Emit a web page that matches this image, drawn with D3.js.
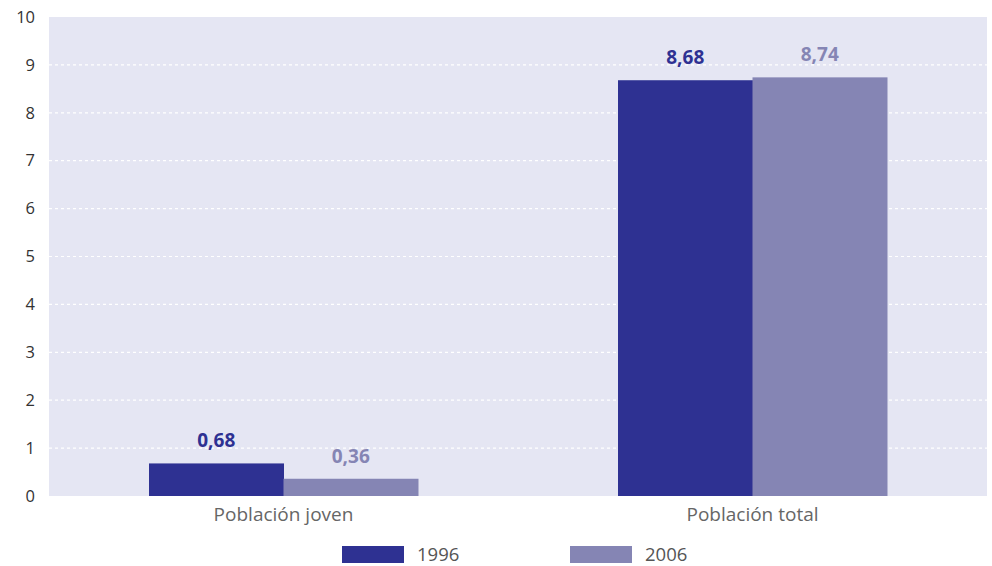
<!DOCTYPE html>
<html><head><meta charset="utf-8">
<script src="https://cdn.jsdelivr.net/npm/d3@7"></script>
<style>body{margin:0;background:#fff;} svg{display:block;font-family:"Open Sans","Noto Sans",sans-serif;}</style>
</head><body>
<svg id="c" width="992" height="566"></svg>
<script>
const categories = ["Población joven", "Población total"];
const seriesNames = ["1996", "2006"];
const values1996 = [0.68, 8.68];
const values2006 = [0.36, 8.74];
const valueLabels1996 = ["0,68", "8,68"];
const valueLabels2006 = ["0,36", "8,74"];
const yTicks = [0,1,2,3,4,5,6,7,8,9,10];
const colors = ["#2e3192", "#8585b4"];

const svg = d3.select("#c");
const L = 49, R = 987, T = 17, B = 496;
const y = d3.scaleLinear().domain([0,10]).range([B,T]);
const x0 = d3.scaleBand().domain(categories).range([L,R]).padding(0);
const x1 = d3.scaleBand().domain(seriesNames).range([0,x0.bandwidth()]).paddingInner(0).paddingOuter(0.7435);

svg.append("rect").attr("x",L).attr("y",T).attr("width",R-L).attr("height",B-T).attr("fill","#e5e6f3");

svg.append("g").selectAll("line").data(yTicks.filter(d=>d>0 && d<10)).join("line")
  .attr("x1",L).attr("x2",R).attr("y1",d=>y(d)).attr("y2",d=>y(d))
  .attr("stroke","#ffffff").attr("stroke-width",1.2).attr("stroke-dasharray","3,3");

const yAxis = svg.append("g").attr("transform",`translate(${L},0)`)
  .call(d3.axisLeft(y).tickValues(yTicks).tickSize(0).tickPadding(14));
yAxis.select(".domain").remove();
yAxis.selectAll("text").attr("font-size",16.5).attr("fill","#333").attr("font-family","'Open Sans',sans-serif");

const data = categories.map((c,i)=>({cat:c, vals:[
  {s:seriesNames[0], v:values1996[i], lab:valueLabels1996[i], col:colors[0]},
  {s:seriesNames[1], v:values2006[i], lab:valueLabels2006[i], col:colors[1]}]}));

const g = svg.append("g").selectAll("g").data(data).join("g")
  .attr("transform",d=>`translate(${x0(d.cat)},0)`);
g.selectAll("rect").data(d=>d.vals).join("rect")
  .attr("x",d=>x1(d.s)).attr("width",x1.bandwidth()+0.5)
  .attr("y",d=>y(d.v)).attr("height",d=>B-y(d.v)).attr("fill",d=>d.col);
g.selectAll("text").data(d=>d.vals).join("text")
  .attr("x",d=>x1(d.s)+x1.bandwidth()/2).attr("y",d=>y(d.v)-16)
  .attr("text-anchor","middle").attr("font-size",19).attr("font-weight","bold")
  .attr("fill",d=>d.col).text(d=>d.lab);

const xAxis = svg.append("g").attr("transform",`translate(0,${B})`)
  .call(d3.axisBottom(x0).tickSize(0).tickPadding(12));
xAxis.select(".domain").remove();
xAxis.selectAll("text").attr("font-size",19).attr("fill","#666").attr("font-family","'Open Sans',sans-serif");

const legX = [342, 570];
const leg = svg.append("g").selectAll("g").data(seriesNames).join("g")
  .attr("transform",(d,i)=>`translate(${legX[i]},546)`);
leg.append("rect").attr("width",62).attr("height",17).attr("fill",(d,i)=>colors[i]);
leg.append("text").attr("x",75).attr("y",15).attr("font-size",18.5).attr("fill","#555").text(d=>d);
</script>
</body></html>
